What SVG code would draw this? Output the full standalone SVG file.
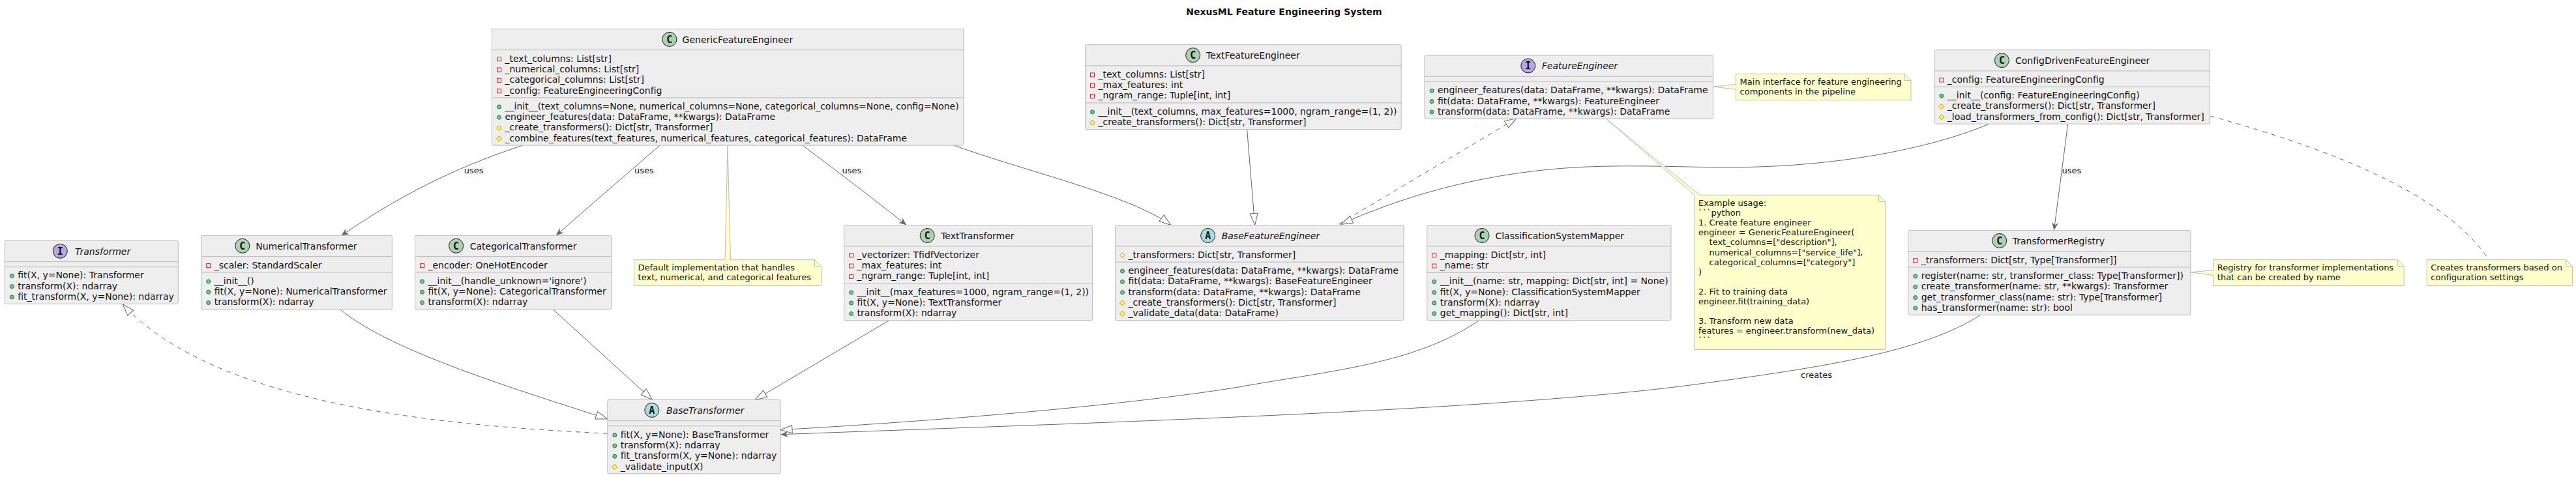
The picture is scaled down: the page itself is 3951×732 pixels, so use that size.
<svg xmlns="http://www.w3.org/2000/svg" width="3951" height="732" viewBox="0 0 3951 732">
<style>
text{font-family:"DejaVu Sans",sans-serif;font-size:14px;fill:#111111}
.title{font-weight:bold;text-anchor:middle}
.i{font-style:italic}
.n{font-size:13px;white-space:pre}
.l{font-size:13px}
.box{fill:#EEEEEE;stroke:#BBBBBB;stroke-width:1}
.div{stroke:#BBBBBB;stroke-width:1}
.note{fill:#FFFFCC;stroke:#BBBBBB;stroke-width:1}
.fold{fill:none;stroke:#BBBBBB;stroke-width:1}
.icC{fill:#ADD1B2;stroke:#181818}
.icI{fill:#B4A7E5;stroke:#181818}
.icA{fill:#A9DCDF;stroke:#181818}
.ic{font-family:"DejaVu Sans Mono",monospace;font-weight:bold;font-size:15px;text-anchor:middle}
#connectors path{fill:none;stroke:#666666;stroke-width:1}
#connectors path.d{stroke-dasharray:7,7}
#connectors path.h{marker-end:url(#hollow)}
#connectors path.v{marker-end:url(#vee)}
</style>
<defs>
<marker id="hollow" markerUnits="userSpaceOnUse" markerWidth="22" markerHeight="18" refX="19" refY="8" orient="auto" overflow="visible"><path d="M19,8 L1,2 L1,14 Z" fill="#FFFFFF" stroke="#666666"/></marker>
<marker id="vee" markerUnits="userSpaceOnUse" markerWidth="16" markerHeight="14" refX="12" refY="5" orient="auto" overflow="visible"><path d="M12,5 L0,0 L4,5 L0,10 Z" fill="#666666"/></marker>
<circle id="pub" r="3" fill="#84BE84" stroke="#038048"/>
<rect id="pri" x="-3" y="-3" width="6" height="6" fill="none" stroke="#C82930"/>
<path id="pro" d="M0,-4 L4,0 L0,4 L-4,0 Z" fill="#FFFF44" stroke="#B38D22"/>
<path id="prof" d="M0,-4 L4,0 L0,4 L-4,0 Z" fill="none" stroke="#B38D22"/>
</defs>
<rect width="3951" height="732" fill="#FFFFFF"/>
<text class="title" x="1969.4" y="23.3">NexusML Feature Engineering System</text>

<g id="connectors">
<path class="v" d="M802.3,222.8 C720,250 630,288 523.3,361.7"/>
<path class="v" d="M1012,223 C960,268 900,320 852.7,361.3"/>
<path class="v" d="M1230.9,223 C1280,260 1340,305 1390.3,345.5"/>
<path class="h" d="M1463,223 C1570,262 1735,300 1795.9,345.5"/>
<path class="h" d="M1912.6,198.4 L1924.7,345.5"/>
<path class="h d" d="M2053.3,344 L2326,181.7"/>
<path class="h" d="M3050.3,190.5 C2950,232 2800,258 2637.8,256.8 C2560,256 2480,252 2400,258 C2260,268 2140,306 2056.7,344.3"/>
<path class="v" d="M3171.6,190.5 L3150.4,353.4"/>
<path class="h" d="M521.7,474.8 C600,540 800,600 931.8,642.9"/>
<path class="h" d="M848.2,474.8 L1000.5,613.4"/>
<path class="h" d="M1363.5,491.8 L1158.2,613.4"/>
<path class="h d" d="M931.8,665.3 C729,655 340,632 188.1,466.8"/>
<path class="h" d="M2268.5,491.6 C2170,560 2030,570 1900,594 C1700,626 1400,648 1197,659.7"/>
<path class="v" d="M3038.2,482.9 C2950,540 2800,563 2600,590 C2300,630 1700,648 1197,666.7"/>
<path class="d" d="M3389.4,178 C3560,225 3740,290 3813.9,393.5"/>
</g>
<text class="l" x="711.7" y="266">uses</text>
<text class="l" x="973" y="266">uses</text>
<text class="l" x="1291.5" y="266">uses</text>
<text class="l" x="3162.5" y="266">uses</text>
<text class="l" x="2762" y="580">creates</text>

<g id="Transformer" transform="translate(7.3,369.3)">
<rect class="box" width="266" height="97.2" rx="2.5"/>
<line class="div" x1="0" x2="266" y1="32.3" y2="32.3"/><line class="div" x1="0" x2="266" y1="40.3" y2="40.3"/>
<circle class="icI" cx="85" cy="16" r="11"/><text class="ic" x="85" y="21.4">I</text>
<text class="i" x="107.7" y="21.4">Transformer</text>
<use href="#pub" x="11" y="54"/><text x="20" y="58">fit(X, y=None): Transformer</text>
<use href="#pub" x="11" y="70.3"/><text x="20" y="74.3">transform(X): ndarray</text>
<use href="#pub" x="11" y="86.6"/><text x="20" y="90.6">fit_transform(X, y=None): ndarray</text>
</g>

<g id="NumericalTransformer" transform="translate(308.7,361.3)">
<rect class="box" width="292.7" height="113.5" rx="2.5"/>
<line class="div" x1="0" x2="292.7" y1="32.3" y2="32.3"/><line class="div" x1="0" x2="292.7" y1="56.6" y2="56.6"/>
<circle class="icC" cx="63.1" cy="16" r="11"/><text class="ic" x="63.1" y="21.4">C</text>
<text x="83.5" y="21.4">NumericalTransformer</text>
<use href="#pri" x="11" y="46.3"/><text x="20" y="50.3">_scaler: StandardScaler</text>
<use href="#pub" x="11" y="70.6"/><text x="20" y="74.6">__init__()</text>
<use href="#pub" x="11" y="86.9"/><text x="20" y="90.9">fit(X, y=None): NumericalTransformer</text>
<use href="#pub" x="11" y="103.2"/><text x="20" y="107.2">transform(X): ndarray</text>
</g>

<g id="CategoricalTransformer" transform="translate(636.5,361.3)">
<rect class="box" width="301" height="113.5" rx="2.5"/>
<line class="div" x1="0" x2="301" y1="32.3" y2="32.3"/><line class="div" x1="0" x2="301" y1="56.6" y2="56.6"/>
<circle class="icC" cx="63.1" cy="16" r="11"/><text class="ic" x="63.1" y="21.4">C</text>
<text x="84.2" y="21.4">CategoricalTransformer</text>
<use href="#pri" x="11" y="46.3"/><text x="20" y="50.3">_encoder: OneHotEncoder</text>
<use href="#pub" x="11" y="70.6"/><text x="20" y="74.6">__init__(handle_unknown='ignore')</text>
<use href="#pub" x="11" y="86.9"/><text x="20" y="90.9">fit(X, y=None): CategoricalTransformer</text>
<use href="#pub" x="11" y="103.2"/><text x="20" y="107.2">transform(X): ndarray</text>
</g>

<g id="BaseTransformer" transform="translate(931.8,613.4)">
<rect class="box" width="265.2" height="113.5" rx="2.5"/>
<line class="div" x1="0" x2="265.2" y1="32.3" y2="32.3"/><line class="div" x1="0" x2="265.2" y1="40.3" y2="40.3"/>
<circle class="icA" cx="68" cy="16" r="11"/><text class="ic" x="68" y="21.4">A</text>
<text class="i" x="90.2" y="21.4">BaseTransformer</text>
<use href="#pub" x="11" y="54.3"/><text x="20" y="58.3">fit(X, y=None): BaseTransformer</text>
<use href="#pub" x="11" y="70.6"/><text x="20" y="74.6">transform(X): ndarray</text>
<use href="#pub" x="11" y="86.9"/><text x="20" y="90.9">fit_transform(X, y=None): ndarray</text>
<use href="#pro" x="11" y="103.2"/><text x="20" y="107.2">_validate_input(X)</text>
</g>

<g id="GenericFeatureEngineer" transform="translate(754.5,44.4)">
<rect class="box" width="723.2" height="178.7" rx="2.5"/>
<line class="div" x1="0" x2="723.2" y1="32.3" y2="32.3"/><line class="div" x1="0" x2="723.2" y1="105.5" y2="105.5"/>
<circle class="icC" cx="272.3" cy="16" r="11"/><text class="ic" x="272.3" y="21.4">C</text>
<text x="292.1" y="21.4">GenericFeatureEngineer</text>
<use href="#pri" x="11" y="46.3"/><text x="20" y="50.3">_text_columns: List[str]</text>
<use href="#pri" x="11" y="62.6"/><text x="20" y="66.6">_numerical_columns: List[str]</text>
<use href="#pri" x="11" y="78.9"/><text x="20" y="82.9">_categorical_columns: List[str]</text>
<use href="#pri" x="11" y="95.2"/><text x="20" y="99.2">_config: FeatureEngineeringConfig</text>
<use href="#pub" x="11" y="119.5"/><text x="20" y="123.5">__init__(text_columns=None, numerical_columns=None, categorical_columns=None, config=None)</text>
<use href="#pub" x="11" y="135.8"/><text x="20" y="139.8">engineer_features(data: DataFrame, **kwargs): DataFrame</text>
<use href="#pro" x="11" y="152.1"/><text x="20" y="156.1">_create_transformers(): Dict[str, Transformer]</text>
<use href="#pro" x="11" y="168.4"/><text x="20" y="172.4">_combine_features(text_features, numerical_features, categorical_features): DataFrame</text>
</g>

<g id="TextTransformer" transform="translate(1294.6,345.5)">
<rect class="box" width="380.8" height="146.2" rx="2.5"/>
<line class="div" x1="0" x2="380.8" y1="32.3" y2="32.3"/><line class="div" x1="0" x2="380.8" y1="89.3" y2="89.3"/>
<circle class="icC" cx="127.6" cy="16" r="11"/><text class="ic" x="127.6" y="21.4">C</text>
<text x="148.6" y="21.4">TextTransformer</text>
<use href="#pri" x="11" y="46.3"/><text x="20" y="50.3">_vectorizer: TfidfVectorizer</text>
<use href="#pri" x="11" y="62.6"/><text x="20" y="66.6">_max_features: int</text>
<use href="#pri" x="11" y="78.9"/><text x="20" y="82.9">_ngram_range: Tuple[int, int]</text>
<use href="#pub" x="11" y="103.3"/><text x="20" y="107.3">__init__(max_features=1000, ngram_range=(1, 2))</text>
<use href="#pub" x="11" y="119.6"/><text x="20" y="123.6">fit(X, y=None): TextTransformer</text>
<use href="#pub" x="11" y="135.9"/><text x="20" y="139.9">transform(X): ndarray</text>
</g>

<g id="BaseFeatureEngineer" transform="translate(1710.5,345.5)">
<rect class="box" width="442.5" height="146.2" rx="2.5"/>
<line class="div" x1="0" x2="442.5" y1="32.3" y2="32.3"/><line class="div" x1="0" x2="442.5" y1="56.6" y2="56.6"/>
<circle class="icA" cx="142.2" cy="16" r="11"/><text class="ic" x="142.2" y="21.4">A</text>
<text class="i" x="163.2" y="21.4">BaseFeatureEngineer</text>
<use href="#prof" x="11" y="46.3"/><text x="20" y="50.3">_transformers: Dict[str, Transformer]</text>
<use href="#pub" x="11" y="70.6"/><text x="20" y="74.6">engineer_features(data: DataFrame, **kwargs): DataFrame</text>
<use href="#pub" x="11" y="86.9"/><text x="20" y="90.9">fit(data: DataFrame, **kwargs): BaseFeatureEngineer</text>
<use href="#pub" x="11" y="103.2"/><text x="20" y="107.2">transform(data: DataFrame, **kwargs): DataFrame</text>
<use href="#pro" x="11" y="119.5"/><text x="20" y="123.5">_create_transformers(): Dict[str, Transformer]</text>
<use href="#pro" x="11" y="135.8"/><text x="20" y="139.8">_validate_data(data: DataFrame)</text>
</g>

<g id="TextFeatureEngineer" transform="translate(1664.5,68.6)">
<rect class="box" width="484.7" height="130" rx="2.5"/>
<line class="div" x1="0" x2="484.7" y1="32.3" y2="32.3"/><line class="div" x1="0" x2="484.7" y1="89.3" y2="89.3"/>
<circle class="icC" cx="165.2" cy="16" r="11"/><text class="ic" x="165.2" y="21.4">C</text>
<text x="185.6" y="21.4">TextFeatureEngineer</text>
<use href="#pri" x="11" y="46.3"/><text x="20" y="50.3">_text_columns: List[str]</text>
<use href="#pri" x="11" y="62.6"/><text x="20" y="66.6">_max_features: int</text>
<use href="#pri" x="11" y="78.9"/><text x="20" y="82.9">_ngram_range: Tuple[int, int]</text>
<use href="#pub" x="11" y="103.3"/><text x="20" y="107.3">__init__(text_columns, max_features=1000, ngram_range=(1, 2))</text>
<use href="#pro" x="11" y="119.6"/><text x="20" y="123.6">_create_transformers(): Dict[str, Transformer]</text>
</g>

<g id="FeatureEngineer" transform="translate(2185,85)">
<rect class="box" width="442.6" height="97.2" rx="2.5"/>
<line class="div" x1="0" x2="442.6" y1="32.3" y2="32.3"/><line class="div" x1="0" x2="442.6" y1="40.3" y2="40.3"/>
<circle class="icI" cx="158.8" cy="16" r="11"/><text class="ic" x="158.8" y="21.4">I</text>
<text class="i" x="179.8" y="21.4">FeatureEngineer</text>
<use href="#pub" x="11" y="54.3"/><text x="20" y="58.3">engineer_features(data: DataFrame, **kwargs): DataFrame</text>
<use href="#pub" x="11" y="70.6"/><text x="20" y="74.6">fit(data: DataFrame, **kwargs): FeatureEngineer</text>
<use href="#pub" x="11" y="86.9"/><text x="20" y="90.9">transform(data: DataFrame, **kwargs): DataFrame</text>
</g>

<g id="ClassificationSystemMapper" transform="translate(2188.8,345.5)">
<rect class="box" width="374.2" height="146.2" rx="2.5"/>
<line class="div" x1="0" x2="374.2" y1="32.3" y2="32.3"/><line class="div" x1="0" x2="374.2" y1="72.9" y2="72.9"/>
<circle class="icC" cx="84.2" cy="16" r="11"/><text class="ic" x="84.2" y="21.4">C</text>
<text x="104.6" y="21.4">ClassificationSystemMapper</text>
<use href="#pri" x="11" y="46.3"/><text x="20" y="50.3">_mapping: Dict[str, int]</text>
<use href="#pri" x="11" y="62.6"/><text x="20" y="66.6">_name: str</text>
<use href="#pub" x="11" y="86.9"/><text x="20" y="90.9">__init__(name: str, mapping: Dict[str, int] = None)</text>
<use href="#pub" x="11" y="103.2"/><text x="20" y="107.2">fit(X, y=None): ClassificationSystemMapper</text>
<use href="#pub" x="11" y="119.5"/><text x="20" y="123.5">transform(X): ndarray</text>
<use href="#pub" x="11" y="135.8"/><text x="20" y="139.8">get_mapping(): Dict[str, int]</text>
</g>

<g id="ConfigDrivenFeatureEngineer" transform="translate(2966.8,76.6)">
<rect class="box" width="422.6" height="113.6" rx="2.5"/>
<line class="div" x1="0" x2="422.6" y1="32.3" y2="32.3"/><line class="div" x1="0" x2="422.6" y1="56.6" y2="56.6"/>
<circle class="icC" cx="103.6" cy="16" r="11"/><text class="ic" x="103.6" y="21.4">C</text>
<text x="124.2" y="21.4">ConfigDrivenFeatureEngineer</text>
<use href="#pri" x="11" y="46.3"/><text x="20" y="50.3">_config: FeatureEngineeringConfig</text>
<use href="#pub" x="11" y="70.6"/><text x="20" y="74.6">__init__(config: FeatureEngineeringConfig)</text>
<use href="#pro" x="11" y="86.9"/><text x="20" y="90.9">_create_transformers(): Dict[str, Transformer]</text>
<use href="#pro" x="11" y="103.2"/><text x="20" y="107.2">_load_transformers_from_config(): Dict[str, Transformer]</text>
</g>

<g id="TransformerRegistry" transform="translate(2926.7,353.4)">
<rect class="box" width="433" height="129.8" rx="2.5"/>
<line class="div" x1="0" x2="433" y1="32.3" y2="32.3"/><line class="div" x1="0" x2="433" y1="56.6" y2="56.6"/>
<circle class="icC" cx="140" cy="16" r="11"/><text class="ic" x="140" y="21.4">C</text>
<text x="160" y="21.4">TransformerRegistry</text>
<use href="#pri" x="11" y="46.3"/><text x="20" y="50.3">_transformers: Dict[str, Type[Transformer]]</text>
<use href="#pub" x="11" y="70.6"/><text x="20" y="74.6">register(name: str, transformer_class: Type[Transformer])</text>
<use href="#pub" x="11" y="86.9"/><text x="20" y="90.9">create_transformer(name: str, **kwargs): Transformer</text>
<use href="#pub" x="11" y="103.2"/><text x="20" y="107.2">get_transformer_class(name: str): Type[Transformer]</text>
<use href="#pub" x="11" y="119.5"/><text x="20" y="123.5">has_transformer(name: str): bool</text>
</g>

<g id="note-generic">
<path class="note" d="M972.6,398.7 L1112,398.7 L1116,224 L1120.5,398.7 L1249.6,398.7 L1259.6,408.7 L1259.6,438.4 L972.6,438.4 Z"/>
<path class="fold" d="M1249.6,398.7 L1249.6,408.7 L1259.6,408.7"/>
<text class="n" x="978.6" y="415.2">Default implementation that handles</text>
<text class="n" x="978.6" y="430.3">text, numerical, and categorical features</text>
</g>
<g id="note-interface">
<path class="note" d="M2662.6,113.4 L2921,113.4 L2931,123.4 L2931,153.6 L2662.6,153.6 L2662.6,137.3 L2628,133 L2662.6,129.3 Z"/>
<path class="fold" d="M2921,113.4 L2921,123.4 L2931,123.4"/>
<text class="n" x="2668.6" y="130">Main interface for feature engineering</text>
<text class="n" x="2668.6" y="145.1">components in the pipeline</text>
</g>
<g id="note-usage">
<path class="note" d="M2599,299.3 L2463.6,182.5 L2607,299.3 L2881.6,299.3 L2891.6,309.3 L2891.6,536.4 L2599,536.4 Z"/>
<path class="fold" d="M2881.6,299.3 L2881.6,309.3 L2891.6,309.3"/>
<text class="n" x="2605" y="316">Example usage:</text>
<text class="n" x="2605" y="331.1">```python</text>
<text class="n" x="2605" y="346.2">1. Create feature engineer</text>
<text class="n" x="2605" y="361.3">engineer = GenericFeatureEngineer(</text>
<text class="n" x="2605" y="376.4">    text_columns=["description"],</text>
<text class="n" x="2605" y="391.5">    numerical_columns=["service_life"],</text>
<text class="n" x="2605" y="406.6">    categorical_columns=["category"]</text>
<text class="n" x="2605" y="421.7">)</text>
<text class="n" x="2605" y="451.9">2. Fit to training data</text>
<text class="n" x="2605" y="467">engineer.fit(training_data)</text>
<text class="n" x="2605" y="497.2">3. Transform new data</text>
<text class="n" x="2605" y="512.3">features = engineer.transform(new_data)</text>
<text class="n" x="2605" y="527.4">```</text>
</g>
<g id="note-registry">
<path class="note" d="M3394.8,398.7 L3677.2,398.7 L3687.2,408.7 L3687.2,438.4 L3394.8,438.4 L3394.8,422.5 L3360.3,417.8 L3394.8,414.6 Z"/>
<path class="fold" d="M3677.2,398.7 L3677.2,408.7 L3687.2,408.7"/>
<text class="n" x="3400.8" y="415.2">Registry for transformer implementations</text>
<text class="n" x="3400.8" y="430.3">that can be created by name</text>
</g>
<g id="note-config">
<path class="note" d="M3722.3,398.7 L3935.7,398.7 L3945.7,408.7 L3945.7,438.4 L3722.3,438.4 Z"/>
<path class="fold" d="M3935.7,398.7 L3935.7,408.7 L3945.7,408.7"/>
<text class="n" x="3728.3" y="415.2">Creates transformers based on</text>
<text class="n" x="3728.3" y="430.3">configuration settings</text>
</g>
</svg>
